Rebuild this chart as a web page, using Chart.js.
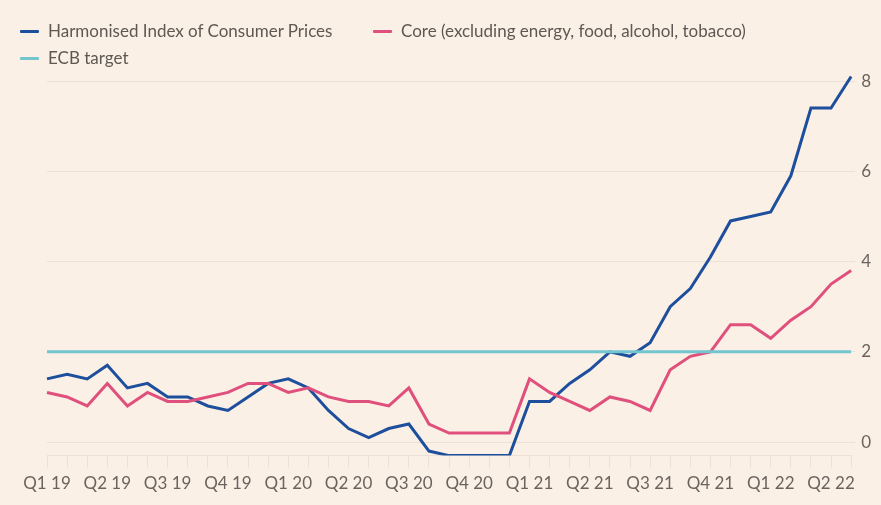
<!DOCTYPE html>
<html>
<head>
<meta charset="utf-8">
<script src="https://cdn.jsdelivr.net/npm/chart.js@4/dist/chart.umd.min.js"></script>
<style>
  html, body { margin: 0; padding: 0; background: #fbf0e6; }
  #wrap { position: relative; width: 881px; height: 505px; background: #fbf0e6; }
  #legend { position: absolute; left: 0; top: 0; font-family: Lato, sans-serif; font-size: 17px; color: #5e5852; }
  .item { position: absolute; white-space: nowrap; line-height: 20px; }
  .item i { position: absolute; top: 9px; width: 19px; height: 3px; border-radius: 1px; }
  .item span { position: absolute; left: 28px; top: 0; }
</style>
</head>
<body>
<div id="wrap">
  <canvas id="myChart" width="881" height="505"></canvas>
  <div id="legend"></div>
</div>
<script>
// monthly, Jan 2019 - May 2022
const months = [
  '2019-01','2019-02','2019-03','2019-04','2019-05','2019-06','2019-07','2019-08','2019-09','2019-10','2019-11','2019-12',
  '2020-01','2020-02','2020-03','2020-04','2020-05','2020-06','2020-07','2020-08','2020-09','2020-10','2020-11','2020-12',
  '2021-01','2021-02','2021-03','2021-04','2021-05','2021-06','2021-07','2021-08','2021-09','2021-10','2021-11','2021-12',
  '2022-01','2022-02','2022-03','2022-04','2022-05'
]

const hicp = [
  1.4, 1.5, 1.4, 1.7, 1.2, 1.3, 1.0, 1.0, 0.8, 0.7, 1.0, 1.3,
  1.4, 1.2, 0.7, 0.3, 0.1, 0.3, 0.4, -0.2, -0.3, -0.3, -0.3, -0.3,
  0.9, 0.9, 1.3, 1.6, 2.0, 1.9, 2.2, 3.0, 3.4, 4.1, 4.9, 5.0,
  5.1, 5.9, 7.4, 7.4, 8.1
]

const core = [
  1.1, 1.0, 0.8, 1.3, 0.8, 1.1, 0.9, 0.9, 1.0, 1.1, 1.3, 1.3,
  1.1, 1.2, 1.0, 0.9, 0.9, 0.8, 1.2, 0.4, 0.2, 0.2, 0.2, 0.2,
  1.4, 1.1, 0.9, 0.7, 1.0, 0.9, 0.7, 1.6, 1.9, 2.0, 2.6, 2.6,
  2.3, 2.7, 3.0, 3.5, 3.8
]

const ecbTarget = [
  { x: '2019-01', y: 2 },
  { x: '2022-05', y: 2 }
]

const quarterLabels = {
  '2019-01': 'Q1 19', '2019-04': 'Q2 19', '2019-07': 'Q3 19', '2019-10': 'Q4 19',
  '2020-01': 'Q1 20', '2020-04': 'Q2 20', '2020-07': 'Q3 20', '2020-10': 'Q4 20',
  '2021-01': 'Q1 21', '2021-04': 'Q2 21', '2021-07': 'Q3 21', '2021-10': 'Q4 21',
  '2022-01': 'Q1 22', '2022-04': 'Q2 22'
}

const yTicks = [0, 2, 4, 6, 8]

const series = [
  { label: 'Harmonised Index of Consumer Prices', color: '#1e4f9c', data: hicp, left: 20, top: 21 },
  { label: 'Core (excluding energy, food, alcohol, tobacco)', color: '#e0507c', data: core, left: 373, top: 21 },
  { label: 'ECB target', color: '#72c6cf', data: ecbTarget, left: 20, top: 48 }
]

// legend as html so the rows break like the original
const legend = document.getElementById('legend')
series.forEach(s => {
  const el = document.createElement('div')
  el.className = 'item'
  el.style.left = s.left + 'px'
  el.style.top = s.top + 'px'
  el.innerHTML = '<i style="background:' + s.color + '"></i><span>' + s.label + '</span>'
  legend.appendChild(el)
})

const grid = '#ebe1d6'
const tickColor = '#6b645e'

const ctx = document.getElementById('myChart')
new Chart(ctx, {
  type: 'line',
  data: {
    labels: months,
    datasets: series.slice().reverse().map(s => ({
      label: s.label,
      data: s.data,
      borderColor: s.color,
      borderWidth: 3,
      pointRadius: 0,
      tension: 0,
      fill: false
    }))
  },
  options: {
    responsive: false,
    animation: false,
    layout: { padding: { left: 47, right: 4, top: 72, bottom: 5 } },
    plugins: { legend: { display: false }, tooltip: { enabled: false } },
    scales: {
      x: {
        offset: false,
        border: { display: true, color: grid, width: 1 },
        grid: { drawOnChartArea: false, drawTicks: true, tickLength: 12, color: grid },
        ticks: {
          autoSkip: false,
          maxRotation: 0,
          padding: 6,
          color: tickColor,
          font: { family: 'Lato', size: 17 },
          callback: function (v) { return quarterLabels[months[v]] || '' }
        }
      },
      y: {
        position: 'right',
        min: -0.3,
        max: 8.2,
        afterBuildTicks: axis => { axis.ticks = yTicks.map(v => ({ value: v })) },
        border: { display: false },
        grid: { color: grid, drawTicks: true, tickLength: 4 },
        ticks: {
          padding: 6,
          color: tickColor,
          font: { family: 'Lato', size: 17 }
        }
      }
    }
  }
})
</script>
</body>
</html>
